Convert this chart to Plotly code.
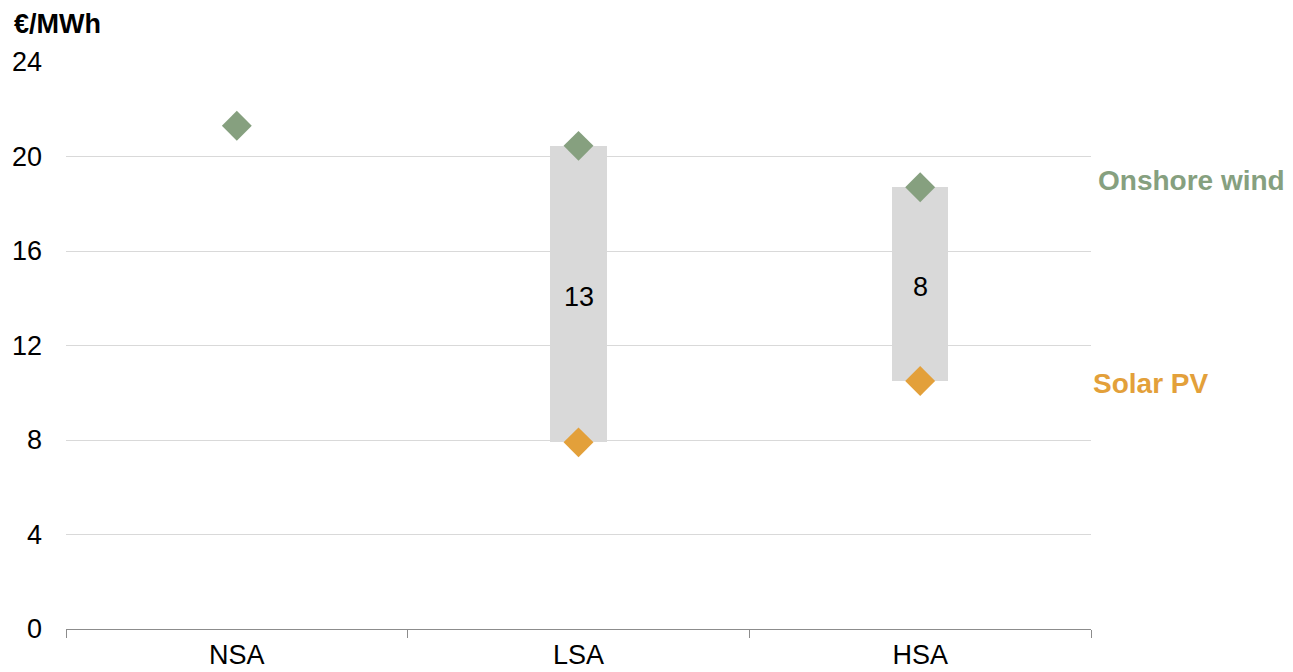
import plotly.graph_objects as go

# Areas and cost values (€/MWh)
areas = ["NSA", "LSA", "HSA"]
wind_areas = ["NSA", "LSA", "HSA"]
wind_cost = [21.3, 20.45, 18.7]
solar_areas = ["LSA", "HSA"]
solar_cost = [7.9, 10.5]
y_ticks = [0, 4, 8, 12, 16, 20, 24]

WIND = "#86A07F"
SOLAR = "#E3A03A"
GREY_BAR = "#D9D9D9"
FONT = "Liberation Sans, Arial, sans-serif"

# Gap between wind and solar where both exist
wind_lookup = dict(zip(wind_areas, wind_cost))
gap_base = solar_cost
gap_height = [wind_lookup[a] - s for a, s in zip(solar_areas, solar_cost)]
gap_mid = [b + h / 2 for b, h in zip(gap_base, gap_height)]
gap_text = [str(int(h + 0.5)) for h in gap_height]

fig = go.Figure()

fig.add_trace(go.Bar(
    x=solar_areas, y=gap_height, base=gap_base,
    width=0.165,
    marker=dict(color=GREY_BAR, line=dict(width=0)),
    hoverinfo="skip", showlegend=False,
))

fig.add_trace(go.Scatter(
    x=wind_areas, y=wind_cost, mode="markers",
    marker=dict(symbol="diamond", size=23, color=WIND, line=dict(width=0)),
    showlegend=False, name="Onshore wind",
))
fig.add_trace(go.Scatter(
    x=solar_areas, y=solar_cost, mode="markers",
    marker=dict(symbol="diamond", size=23, color=SOLAR, line=dict(width=0)),
    showlegend=False, name="Solar PV",
))

# Gap size written in the middle of each grey bar
gap_labels = [
    dict(text=t, x=a, y=m, xref="x", yref="y", showarrow=False,
         xanchor="center", yanchor="middle", yshift=-3,
         font=dict(family=FONT, size=27, color="#000000"))
    for a, m, t in zip(solar_areas, gap_mid, gap_text)
]

fig.update_layout(
    width=1293, height=672,
    margin=dict(l=66, r=202, t=62, b=43),
    paper_bgcolor="white", plot_bgcolor="white",
    font=dict(family=FONT, size=27, color="#000000"),
    bargap=0,
    xaxis=dict(
        type="category", categoryorder="array", categoryarray=areas,
        range=[-0.5, 2.5], automargin=False,
        showline=True, linecolor="#8C8C8C", linewidth=1,
        ticks="outside", tickson="boundaries", ticklen=8,
        tickcolor="#8C8C8C", tickwidth=1,
        ticklabelstandoff=2,
        showgrid=False,
        tickfont=dict(family=FONT, size=27, color="#000000"),
    ),
    yaxis=dict(
        range=[0, 24], tickvals=y_ticks, ticktext=[str(v) for v in y_ticks],
        automargin=False,
        showgrid=True, gridcolor="#D9D9D9", gridwidth=1,
        zeroline=False, showline=False, ticks="",
        ticklabelstandoff=23,
        tickfont=dict(family=FONT, size=27, color="#000000"),
    ),
    annotations=gap_labels + [
        dict(text="<b>€/MWh</b>", xref="paper", yref="paper",
             x=-66 / 1025, y=1 + 38 / 567, xanchor="left", yanchor="middle",
             xshift=12, showarrow=False,
             font=dict(family=FONT, size=27, color="#000000")),
        dict(text="<b>Onshore wind</b>", xref="paper", yref="y",
             x=1.0, y=19.0, xanchor="left", yanchor="middle", xshift=5,
             showarrow=False, font=dict(family=FONT, size=28, color=WIND)),
        dict(text="<b>Solar PV</b>", xref="paper", yref="y",
             x=1.0, y=10.4, xanchor="left", yanchor="middle", xshift=0,
             showarrow=False, font=dict(family=FONT, size=28, color=SOLAR)),
    ],
)

fig.write_html("out.html")
